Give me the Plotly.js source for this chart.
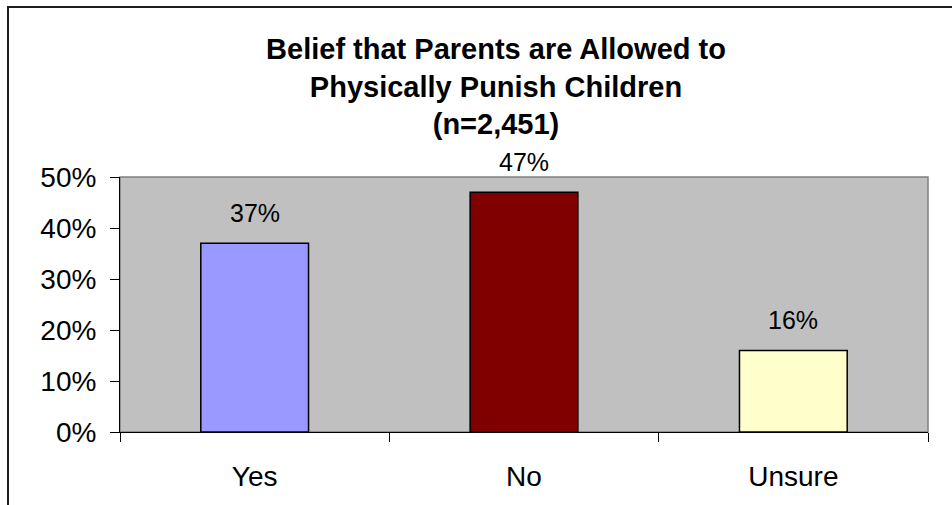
<!DOCTYPE html>
<html>
<head>
<meta charset="utf-8">
<script src="https://cdn.plot.ly/plotly-3.0.1.min.js"></script>
<style>
  html, body { margin: 0; padding: 0; background: #fff; overflow: hidden; }
  #wrap { position: relative; width: 952px; height: 505px; }
  #chart { position: absolute; left: 0; top: 0; width: 952px; height: 505px; }
  #frame { position: absolute; left: 7px; top: 6px; width: 1000px; height: 600px;
           border-left: 2px solid #1e1e1e; border-top: 2px solid #1e1e1e; pointer-events: none; }
</style>
</head>
<body>
<div id="wrap">
  <div id="chart"></div>
  <div id="frame"></div>
</div>
<script>
const categories = ["Yes", "No", "Unsure"];
const values = [37, 47, 16];
const barColors = ["#9999FF", "#800000", "#FFFFCC"];
const yTickValues = [0, 10, 20, 30, 40, 50];
const yTickLabels = ["0%", "10%", "20%", "30%", "40%", "50%"];
const titleLines = ["Belief that Parents are Allowed to", "Physically Punish Children", "(n=2,451)"];

const FONT = "Liberation Sans, Arial, Helvetica, sans-serif";

const trace = {
  type: "bar",
  x: categories,
  y: values,
  width: 0.4,
  marker: { color: barColors, line: { color: "#000000", width: 1.5 } },
  hoverinfo: "none"
};

const annotations = categories.map((c, i) => ({
  x: c, y: values[i], xref: "x", yref: "y",
  text: values[i] + "%", showarrow: false,
  yanchor: "bottom", yshift: 14,
  font: { family: FONT, size: 25, color: "#000" }
}));

const layout = {
  width: 952, height: 505,
  margin: { l: 120, r: 24, t: 177, b: 73 },
  paper_bgcolor: "#ffffff",
  plot_bgcolor: "#C0C0C0",
  showlegend: false,
  font: { family: FONT, color: "#000" },
  title: {
    text: titleLines.join("<br>"),
    font: { family: FONT, size: 29, color: "#000", weight: "bold" },
    x: 496 / 952, xref: "container", xanchor: "center",
    y: 1 - 59 / 505, yref: "container", yanchor: "middle"
  },
  xaxis: {
    type: "category",
    range: [-0.5, 2.5],
    showline: true, linecolor: "#000", linewidth: 1,
    ticks: "outside", tickson: "boundaries", ticklen: 9, tickcolor: "#000", tickwidth: 1,
    showgrid: false, zeroline: false,
    tickfont: { family: FONT, size: 28, color: "#000" },
    ticklabelstandoff: 19,
    fixedrange: true
  },
  yaxis: {
    range: [0, 50],
    tickvals: yTickValues, ticktext: yTickLabels,
    showline: true, linecolor: "#000", linewidth: 1,
    ticks: "outside", ticklen: 9, tickcolor: "#000", tickwidth: 1,
    showgrid: false, zeroline: false,
    tickfont: { family: FONT, size: 28, color: "#000" },
    ticklabelstandoff: 8,
    fixedrange: true
  },
  shapes: [{
    type: "rect", xref: "paper", yref: "paper", x0: 0, x1: 1, y0: 0, y1: 1,
    line: { color: "#808080", width: 1.5 }, layer: "below"
  }],
  annotations: annotations
};

Plotly.newPlot("chart", [trace], layout, { staticPlot: true, displayModeBar: false });
</script>
</body>
</html>
